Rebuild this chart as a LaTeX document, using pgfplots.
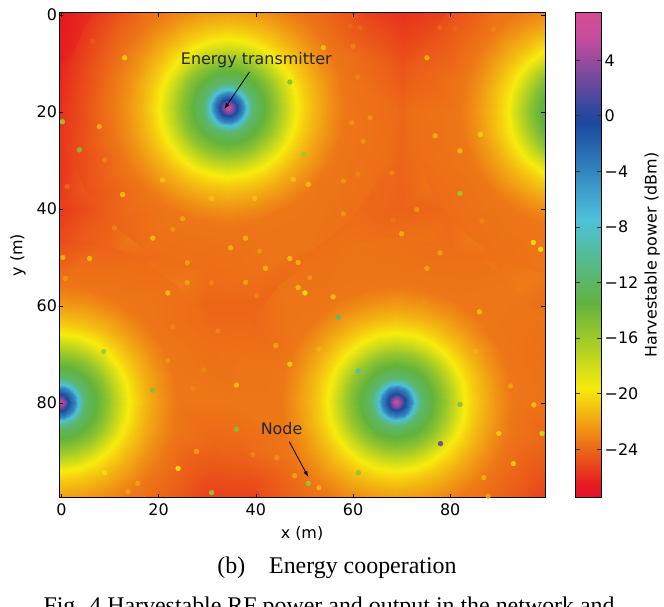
\documentclass[border=0pt]{standalone}
\usepackage{pgfplots}
\pgfplotsset{compat=1.18}
\usepackage{pgfplotstable}
\usepackage{fontspec}
\setmainfont{DejaVu Sans}
\newfontfamily\capfont{Liberation Serif}
\usetikzlibrary{arrows.meta}

\pgfplotsset{
  colormap={gr}{rgb(0pt)=(0.88,0.08,0.18) rgb(1pt)=(0.90,0.10,0.12) rgb(9pt)=(0.97,0.92,0.05) rgb(16pt)=(0.38,0.70,0.24) rgb(23pt)=(0.30,0.76,0.86) rgb(31pt)=(0.10,0.28,0.62) rgb(38pt)=(0.78,0.30,0.62) rgb(40pt)=(0.84,0.30,0.58)},
  samebox/.style={width=486bp, height=484.8bp, scale only axis,
    xmin=-0.5, xmax=99.5, ymin=-0.5, ymax=99.5, y dir=reverse,
    point meta min=-27.47, point meta max=7.42, colormap name=gr,
    at={(0bp,0bp)}, anchor=south west},
  hiddenbox/.style={samebox, hide axis, view={0}{90}, clip=true},
  ring/.style={surf, shader=interp, data cs=polar},
}

% radial profile of one transmitter (inner 24 m): angle (deg), radius (m), power (dBm)
\pgfplotstableread[row sep=\\]{
a r v\\
0 0 6.5\\15 0 6.5\\30 0 6.5\\45 0 6.5\\60 0 6.5\\75 0 6.5\\90 0 6.5\\105 0 6.5\\120 0 6.5\\135 0 6.5\\150 0 6.5\\165 0 6.5\\180 0 6.5\\195 0 6.5\\210 0 6.5\\225 0 6.5\\240 0 6.5\\255 0 6.5\\270 0 6.5\\285 0 6.5\\300 0 6.5\\315 0 6.5\\330 0 6.5\\345 0 6.5\\360 0 6.5\\
0 1 3.0\\15 1 3.0\\30 1 3.0\\45 1 3.0\\60 1 3.0\\75 1 3.0\\90 1 3.0\\105 1 3.0\\120 1 3.0\\135 1 3.0\\150 1 3.0\\165 1 3.0\\180 1 3.0\\195 1 3.0\\210 1 3.0\\225 1 3.0\\240 1 3.0\\255 1 3.0\\270 1 3.0\\285 1 3.0\\300 1 3.0\\315 1 3.0\\330 1 3.0\\345 1 3.0\\360 1 3.0\\
0 2 -1.5\\15 2 -1.5\\30 2 -1.5\\45 2 -1.5\\60 2 -1.5\\75 2 -1.5\\90 2 -1.5\\105 2 -1.5\\120 2 -1.5\\135 2 -1.5\\150 2 -1.5\\165 2 -1.5\\180 2 -1.5\\195 2 -1.5\\210 2 -1.5\\225 2 -1.5\\240 2 -1.5\\255 2 -1.5\\270 2 -1.5\\285 2 -1.5\\300 2 -1.5\\315 2 -1.5\\330 2 -1.5\\345 2 -1.5\\360 2 -1.5\\
0 3 -4.0\\15 3 -4.0\\30 3 -4.0\\45 3 -4.0\\60 3 -4.0\\75 3 -4.0\\90 3 -4.0\\105 3 -4.0\\120 3 -4.0\\135 3 -4.0\\150 3 -4.0\\165 3 -4.0\\180 3 -4.0\\195 3 -4.0\\210 3 -4.0\\225 3 -4.0\\240 3 -4.0\\255 3 -4.0\\270 3 -4.0\\285 3 -4.0\\300 3 -4.0\\315 3 -4.0\\330 3 -4.0\\345 3 -4.0\\360 3 -4.0\\
0 4 -8.5\\15 4 -8.5\\30 4 -8.5\\45 4 -8.5\\60 4 -8.5\\75 4 -8.5\\90 4 -8.5\\105 4 -8.5\\120 4 -8.5\\135 4 -8.5\\150 4 -8.5\\165 4 -8.5\\180 4 -8.5\\195 4 -8.5\\210 4 -8.5\\225 4 -8.5\\240 4 -8.5\\255 4 -8.5\\270 4 -8.5\\285 4 -8.5\\300 4 -8.5\\315 4 -8.5\\330 4 -8.5\\345 4 -8.5\\360 4 -8.5\\
0 5 -11.5\\15 5 -11.5\\30 5 -11.5\\45 5 -11.5\\60 5 -11.5\\75 5 -11.5\\90 5 -11.5\\105 5 -11.5\\120 5 -11.5\\135 5 -11.5\\150 5 -11.5\\165 5 -11.5\\180 5 -11.5\\195 5 -11.5\\210 5 -11.5\\225 5 -11.5\\240 5 -11.5\\255 5 -11.5\\270 5 -11.5\\285 5 -11.5\\300 5 -11.5\\315 5 -11.5\\330 5 -11.5\\345 5 -11.5\\360 5 -11.5\\
0 6.5 -12.8\\15 6.5 -12.8\\30 6.5 -12.8\\45 6.5 -12.8\\60 6.5 -12.8\\75 6.5 -12.8\\90 6.5 -12.8\\105 6.5 -12.8\\120 6.5 -12.8\\135 6.5 -12.8\\150 6.5 -12.8\\165 6.5 -12.8\\180 6.5 -12.8\\195 6.5 -12.8\\210 6.5 -12.8\\225 6.5 -12.8\\240 6.5 -12.8\\255 6.5 -12.8\\270 6.5 -12.8\\285 6.5 -12.8\\300 6.5 -12.8\\315 6.5 -12.8\\330 6.5 -12.8\\345 6.5 -12.8\\360 6.5 -12.8\\
0 8 -14.0\\15 8 -14.0\\30 8 -14.0\\45 8 -14.0\\60 8 -14.0\\75 8 -14.0\\90 8 -14.0\\105 8 -14.0\\120 8 -14.0\\135 8 -14.0\\150 8 -14.0\\165 8 -14.0\\180 8 -14.0\\195 8 -14.0\\210 8 -14.0\\225 8 -14.0\\240 8 -14.0\\255 8 -14.0\\270 8 -14.0\\285 8 -14.0\\300 8 -14.0\\315 8 -14.0\\330 8 -14.0\\345 8 -14.0\\360 8 -14.0\\
0 10 -15.6\\15 10 -15.6\\30 10 -15.6\\45 10 -15.6\\60 10 -15.6\\75 10 -15.6\\90 10 -15.6\\105 10 -15.6\\120 10 -15.6\\135 10 -15.6\\150 10 -15.6\\165 10 -15.6\\180 10 -15.6\\195 10 -15.6\\210 10 -15.6\\225 10 -15.6\\240 10 -15.6\\255 10 -15.6\\270 10 -15.6\\285 10 -15.6\\300 10 -15.6\\315 10 -15.6\\330 10 -15.6\\345 10 -15.6\\360 10 -15.6\\
0 12 -17.6\\15 12 -17.6\\30 12 -17.6\\45 12 -17.6\\60 12 -17.6\\75 12 -17.6\\90 12 -17.6\\105 12 -17.6\\120 12 -17.6\\135 12 -17.6\\150 12 -17.6\\165 12 -17.6\\180 12 -17.6\\195 12 -17.6\\210 12 -17.6\\225 12 -17.6\\240 12 -17.6\\255 12 -17.6\\270 12 -17.6\\285 12 -17.6\\300 12 -17.6\\315 12 -17.6\\330 12 -17.6\\345 12 -17.6\\360 12 -17.6\\
0 14 -19.5\\15 14 -19.5\\30 14 -19.5\\45 14 -19.5\\60 14 -19.5\\75 14 -19.5\\90 14 -19.5\\105 14 -19.5\\120 14 -19.5\\135 14 -19.5\\150 14 -19.5\\165 14 -19.5\\180 14 -19.5\\195 14 -19.5\\210 14 -19.5\\225 14 -19.5\\240 14 -19.5\\255 14 -19.5\\270 14 -19.5\\285 14 -19.5\\300 14 -19.5\\315 14 -19.5\\330 14 -19.5\\345 14 -19.5\\360 14 -19.5\\
0 16 -20.6\\15 16 -20.6\\30 16 -20.6\\45 16 -20.6\\60 16 -20.6\\75 16 -20.6\\90 16 -20.6\\105 16 -20.6\\120 16 -20.6\\135 16 -20.6\\150 16 -20.6\\165 16 -20.6\\180 16 -20.6\\195 16 -20.6\\210 16 -20.6\\225 16 -20.6\\240 16 -20.6\\255 16 -20.6\\270 16 -20.6\\285 16 -20.6\\300 16 -20.6\\315 16 -20.6\\330 16 -20.6\\345 16 -20.6\\360 16 -20.6\\
0 18 -21.5\\15 18 -21.5\\30 18 -21.5\\45 18 -21.5\\60 18 -21.5\\75 18 -21.5\\90 18 -21.5\\105 18 -21.5\\120 18 -21.5\\135 18 -21.5\\150 18 -21.5\\165 18 -21.5\\180 18 -21.5\\195 18 -21.5\\210 18 -21.5\\225 18 -21.5\\240 18 -21.5\\255 18 -21.5\\270 18 -21.5\\285 18 -21.5\\300 18 -21.5\\315 18 -21.5\\330 18 -21.5\\345 18 -21.5\\360 18 -21.5\\
0 21 -22.6\\15 21 -22.6\\30 21 -22.6\\45 21 -22.6\\60 21 -22.6\\75 21 -22.6\\90 21 -22.6\\105 21 -22.6\\120 21 -22.6\\135 21 -22.6\\150 21 -22.6\\165 21 -22.6\\180 21 -22.6\\195 21 -22.6\\210 21 -22.6\\225 21 -22.6\\240 21 -22.6\\255 21 -22.6\\270 21 -22.6\\285 21 -22.6\\300 21 -22.6\\315 21 -22.6\\330 21 -22.6\\345 21 -22.6\\360 21 -22.6\\
0 24 -23.5\\15 24 -23.5\\30 24 -23.5\\45 24 -23.5\\60 24 -23.5\\75 24 -23.5\\90 24 -23.5\\105 24 -23.5\\120 24 -23.5\\135 24 -23.5\\150 24 -23.5\\165 24 -23.5\\180 24 -23.5\\195 24 -23.5\\210 24 -23.5\\225 24 -23.5\\240 24 -23.5\\255 24 -23.5\\270 24 -23.5\\285 24 -23.5\\300 24 -23.5\\315 24 -23.5\\330 24 -23.5\\345 24 -23.5\\360 24 -23.5\\
}\disc

% sensor nodes: x, y, harvested power (dBm)
\pgfplotstableread{
x y v
13.0 8.8 -20.5
47.0 13.8 -15
0.2 22.0 -16
7.8 23.0 -21.5
3.7 27.8 -15
8.9 29.9 -23
20.8 34.0 -21
12.6 37.0 -21
6.4 5.4 -24.5
53.9 6.7 -21
60.0 6.4 -23
59.4 2.3 -24
61.4 2.6 -24
75.2 8.8 -21.5
77.9 2.6 -24
81.0 2.9 -24
88.9 2.9 -23
61.0 12.8 -23
59.7 22.2 -22.5
63.5 21.2 -22.5
62.1 26.0 -22.5
76.9 24.9 -21.5
82.0 28.0 -21
86.2 24.6 -20.5
49.8 28.7 -16
47.7 33.9 -21
50.8 34.9 -21
58.0 34.2 -22.5
61.0 32.8 -23
68.0 32.5 -23
82.0 36.8 -16
1.2 35.3 -24
30.9 37.8 -21
39.8 37.8 -21
10.9 43.9 -23
22.9 44.2 -22.5
24.9 42.0 -22
18.8 46.0 -21
0.3 50.0 -21.5
5.8 50.2 -21
34.8 48.0 -21.5
37.9 46.0 -21.5
40.8 48.7 -22.5
47.0 50.2 -21
48.7 51.0 -21.5
0.8 54.3 -22.5
25.9 51.1 -22
42.0 52.2 -21.5
25.9 55.2 -22
30.9 55.2 -23
37.9 55.1 -22
48.7 56.2 -21
21.9 57.3 -21
40.2 57.9 -23
22.9 64.3 -23
32.2 65.2 -23
44.1 68.2 -22
8.7 69.4 -16
21.9 71.3 -22.5
29.3 73.2 -23
47.0 72.0 -20.5
58.0 41.0 -22.5
73.1 40.1 -22.5
68.3 42.3 -23.5
70.0 45.1 -21.5
86.5 42.5 -23
97.1 46.9 -19
98.6 48.3 -19
77.9 49.0 -22
75.2 52.2 -22
50.1 57.3 -19
51.1 54.2 -22.5
55.9 58.1 -21
57.0 62.3 -11
74.8 59.3 -22.5
86.0 61.2 -21
53.0 68.9 -21.5
61.1 73.4 -9
85.2 69.3 -21.5
18.8 77.4 -15
36.0 76.3 -21
27.1 77.0 -23
36.0 85.4 -15
27.8 90.0 -22
24.0 93.5 -19
30.9 98.5 -16
15.7 96.6 -22
13.7 98.3 -22
8.9 94.4 -20
39.4 90.6 -23
44.3 91.3 -22.5
48.0 95.0 -22
82.0 80.3 -15
78.0 88.4 2
61.1 94.4 -15.5
50.8 96.6 -16
53.0 97.5 -21.5
90.0 86.3 -20.5
93.0 92.5 -20.5
97.2 80.4 -21
98.9 86.3 -18
92.4 76.5 -22
86.9 95.4 -21.5
87.8 99.2 -22
}\nodes

\begin{document}
\begin{tikzpicture}
\useasboundingbox (-59bp,-109.5bp) rectangle (605bp,497.5bp);

% far field (coarse grid)
\begin{axis}[hiddenbox]
\addplot3[surf, shader=interp] table {
x y z
-1 -1 -26.8
10 -1 -25.4
20 -1 -23.3
30 -1 -21.9
40 -1 -21.9
50 -1 -23.4
60 -1 -25.1
70 -1 -25.9
80 -1 -25.2
90 -1 -23.7
101 -1 -22.2

-1 10 -26.5
10 10 -23.5
20 10 -20.6
30 10 -18.1
40 10 -18.5
50 10 -21.0
60 10 -23.5
70 10 -24.7
80 10 -23.6
90 10 -21.1
101 10 -18.5

-1 20 -26.0
10 20 -22.8
20 20 -19.5
30 20 -16.0
40 20 -16.8
50 20 -20.1
60 20 -22.8
70 20 -24.0
80 20 -22.9
90 20 -20.1
101 20 -16.3

-1 30 -25.9
10 30 -23.4
20 30 -20.8
30 30 -18.7
40 30 -19.0
50 30 -21.0
60 30 -23.2
70 30 -24.1
80 30 -23.2
90 30 -21.0
101 30 -18.4

-1 40 -25.6
10 40 -24.3
20 40 -22.7
30 40 -21.7
40 40 -21.8
50 40 -22.7
60 40 -23.9
70 40 -24.2
80 40 -24.0
90 40 -22.8
101 40 -21.3

-1 50 -24.6
10 50 -24.0
20 50 -23.9
30 50 -23.7
40 50 -23.5
50 50 -23.8
60 50 -23.5
70 50 -23.4
80 50 -23.8
90 50 -23.7
101 50 -23.4

-1 60 -21.6
10 60 -22.0
20 60 -23.2
30 60 -24.1
40 60 -24.1
50 60 -23.1
60 60 -21.9
70 60 -21.3
80 60 -22.1
90 60 -23.3
101 60 -23.9

-1 70 -18.2
10 70 -19.7
20 70 -22.0
30 70 -23.7
40 70 -23.6
50 70 -21.7
60 70 -19.3
70 70 -18.1
80 70 -19.8
90 70 -22.1
101 70 -23.8

-1 80 -14.9
10 80 -18.2
20 80 -21.7
30 80 -23.6
40 80 -23.4
50 80 -21.1
60 80 -17.8
70 80 -14.9
80 80 -18.5
90 80 -21.6
101 80 -23.7

-1 90 -18.2
10 90 -19.7
20 90 -22.3
30 90 -24.2
40 90 -24.0
50 90 -21.9
60 90 -19.4
70 90 -18.1
80 90 -19.9
90 90 -22.5
101 90 -24.3

-1 101 -22.3
10 101 -22.8
20 101 -24.4
30 101 -25.5
40 101 -25.5
50 101 -24.1
60 101 -22.8
70 101 -22.3
80 101 -22.9
90 101 -24.5
101 101 -25.7
};
\end{axis}

% transmitter at (34.3, 19.1)
\begin{axis}[hiddenbox, xmin=-34.8, xmax=65.2, ymin=-19.6, ymax=80.4]
\addplot3[ring] table[x=a, y=r, z=v] {
a r v
0 24 -23.5
15 24 -23.5
30 24 -23.5
45 24 -23.5
60 24 -23.5
75 24 -23.5
90 24 -23.5
105 24 -23.5
120 24 -23.5
135 24 -23.5
150 24 -23.5
165 24 -23.5
180 24 -23.5
195 24 -23.5
210 24 -23.5
225 24 -23.5
240 24 -23.5
255 24 -23.5
270 24 -23.5
285 24 -23.5
300 24 -23.5
315 24 -23.5
330 24 -23.5
345 24 -23.5
360 24 -23.5

0 34 -23.9
15 34 -23.8
30 34 -23.8
45 34 -23.7
60 34 -23.6
75 34 -23.6
90 34 -23.8
105 34 -23.8
120 34 -23.8
135 34 -24.2
150 34 -24.8
165 34 -25.3
180 34 -25.7
195 34 -25.8
210 34 -25.7
225 34 -25.4
240 34 -23.9
255 34 -22.5
270 34 -21.9
285 34 -22.4
300 34 -23.6
315 34 -24.8
330 34 -25.0
345 34 -24.3
360 34 -23.9
};
\addplot3[ring, mesh/rows=15, mesh/cols=25] table[x=a, y=r, z=v] {\disc};
\end{axis}

% transmitter at (68.9, 79.8)
\begin{axis}[hiddenbox, xmin=-69.4, xmax=30.6, ymin=-80.3, ymax=19.7]
\addplot3[ring] table[x=a, y=r, z=v] {
a r v
0 24 -23.5
15 24 -23.5
30 24 -23.5
45 24 -23.5
60 24 -23.5
75 24 -23.5
90 24 -23.5
105 24 -23.5
120 24 -23.5
135 24 -23.5
150 24 -23.5
165 24 -23.5
180 24 -23.5
195 24 -23.5
210 24 -23.5
225 24 -23.5
240 24 -23.5
255 24 -23.5
270 24 -23.5
285 24 -23.5
300 24 -23.5
315 24 -23.5
330 24 -23.5
345 24 -23.5
360 24 -23.5

0 34 -23.7
15 34 -24.2
30 34 -24.8
45 34 -24.8
60 34 -23.8
75 34 -22.8
90 34 -22.4
105 34 -22.8
120 34 -23.9
135 34 -24.8
150 34 -24.9
165 34 -24.0
180 34 -23.5
195 34 -23.6
210 34 -24.0
225 34 -23.6
240 34 -23.7
255 34 -23.6
270 34 -23.7
285 34 -23.8
300 34 -23.7
315 34 -23.5
330 34 -23.6
345 34 -23.8
360 34 -23.7
};
\addplot3[ring, mesh/rows=15, mesh/cols=25] table[x=a, y=r, z=v] {\disc};
\end{axis}

% transmitter at (-0.3, 79.9)
\begin{axis}[hiddenbox, xmin=-0.2, xmax=99.8, ymin=-80.4, ymax=19.6]
\addplot3[ring] table[x=a, y=r, z=v] {
a r v
0 24 -23.5
15 24 -23.5
30 24 -23.5
45 24 -23.5
60 24 -23.5
75 24 -23.5
90 24 -23.5
105 24 -23.5
120 24 -23.5
135 24 -23.5
150 24 -23.5
165 24 -23.5
180 24 -23.5
195 24 -23.5
210 24 -23.5
225 24 -23.5
240 24 -23.5
255 24 -23.5
270 24 -23.5
285 24 -23.5
300 24 -23.5
315 24 -23.5
330 24 -23.5
345 24 -23.5
360 24 -23.5

0 34 -23.5
15 34 -24.1
30 34 -24.9
45 34 -24.8
60 34 -23.9
75 34 -22.7
90 34 -22.3
105 34 -22.3
120 34 -23.5
135 34 -23.5
150 34 -23.5
165 34 -23.5
180 34 -23.5
195 34 -23.5
210 34 -23.5
225 34 -23.5
240 34 -23.5
255 34 -25.0
270 34 -25.0
285 34 -24.2
300 34 -23.9
315 34 -23.7
330 34 -23.9
345 34 -23.7
360 34 -23.5
};
\addplot3[ring, mesh/rows=15, mesh/cols=25] table[x=a, y=r, z=v] {\disc};
\end{axis}

% transmitter at (106, 20)
\begin{axis}[hiddenbox, xmin=-106.5, xmax=-6.5, ymin=-20.5, ymax=79.5]
\addplot3[ring] table[x=a, y=r, z=v] {
a r v
0 24 -23.5
15 24 -23.5
30 24 -23.5
45 24 -23.5
60 24 -23.5
75 24 -23.5
90 24 -23.5
105 24 -23.5
120 24 -23.5
135 24 -23.5
150 24 -23.5
165 24 -23.5
180 24 -23.5
195 24 -23.5
210 24 -23.5
225 24 -23.5
240 24 -23.5
255 24 -23.5
270 24 -23.5
285 24 -23.5
300 24 -23.5
315 24 -23.5
330 24 -23.5
345 24 -23.5
360 24 -23.5

0 34 -23.5
15 34 -23.5
30 34 -23.5
45 34 -23.5
60 34 -23.5
75 34 -23.6
90 34 -23.6
105 34 -23.6
120 34 -23.7
135 34 -23.8
150 34 -23.9
165 34 -23.8
180 34 -23.8
195 34 -24.3
210 34 -24.9
225 34 -24.9
240 34 -23.9
255 34 -22.7
270 34 -22.2
285 34 -22.2
300 34 -23.5
315 34 -23.5
330 34 -23.5
345 34 -23.5
360 34 -23.5
};
\addplot3[ring, mesh/rows=15, mesh/cols=25] table[x=a, y=r, z=v] {\disc};
\end{axis}

% frame, ticks, nodes, colour bar
\begin{axis}[samebox,
  axis line style={line width=0.8bp},
  xtick={0,20,...,80}, ytick={0,20,...,80},
  tick align=inside, major tick length=4bp,
  tick style={line width=0.6bp, black},
  /pgf/number format/assume math mode=true,
  every tick label/.append style={font=\fontsize{16}{19}\selectfont},
  xticklabel style={yshift=-3bp},
  yticklabel style={xshift=1.5bp},
  xlabel={x (m)}, ylabel={y (m)},
  every axis x label/.style={at={(axis description cs:0.5,0)}, anchor=base, yshift=-40.5bp, font=\fontsize{16}{19}\selectfont},
  every axis y label/.style={at={([xshift=-41bp]axis description cs:0,0.5)}, rotate=90, anchor=center, font=\fontsize{16}{19}\selectfont},
  colorbar,
  colorbar/width=25.7bp,
  colorbar style={
    at={(parent axis.north east)}, anchor=north west, xshift=22bp,
    scale only axis, width=25.7bp, height=484.8bp,
    axis line style={line width=0.8bp},
    ytick={-24,-20,-16,-12,-8,-4,0,4},
    yticklabels={−24,−20,−16,−12,−8,−4,0,4},
    tick align=inside, major tick length=4bp,
    tick style={line width=0.6bp, black!80},
    yticklabel style={font=\fontsize{16}{19}\selectfont},
    ylabel={Harvestable power (dBm)},
    every axis y label/.style={at={([xshift=51bp]axis description cs:1,0.5)}, rotate=90, anchor=center, font=\fontsize{16}{19}\selectfont},
  },
]
\addplot[scatter, only marks, mark=*, mark size=2.4bp, point meta=explicit,
  scatter/use mapped color={draw=mapped color, fill=mapped color}, opacity=0.9]
  table[x=x, y=y, meta=v] {\nodes};
\node[anchor=base, font=\fontsize{16}{19}\selectfont, text=black!85] at (axis cs:40.1,10.1) {Energy transmitter};
\draw[line width=0.8bp, -{Latex[length=6bp, width=4bp]}] (axis cs:38.7,11.7) -- (axis cs:33.5,19.4);
\node[anchor=base, font=\fontsize{16}{19}\selectfont, text=black!85] at (axis cs:45.3,86.6) {Node};
\draw[line width=0.8bp, -{Latex[length=6bp, width=4bp]}] (axis cs:46.9,88.0) -- (axis cs:50.8,95.3);
\end{axis}

\node[font=\capfont\fontsize{24}{28}\selectfont] at (278bp,-70.5bp) {(b)\quad Energy cooperation};
\node[font=\capfont\fontsize{24}{28}\selectfont, anchor=base west] at (-19bp,-116bp) {Fig. 4 Harvestable RF power and output in the network and};
\end{tikzpicture}
\end{document}
